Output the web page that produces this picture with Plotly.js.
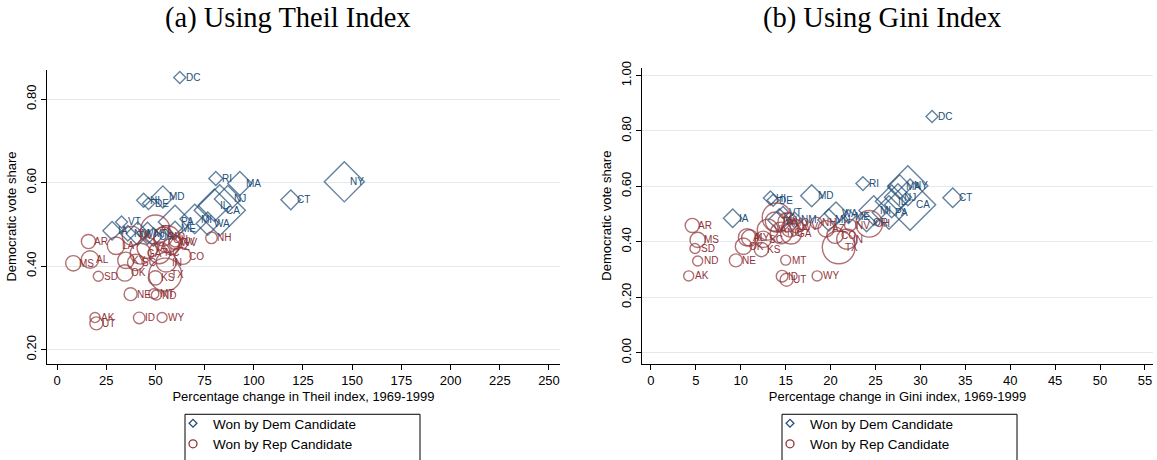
<!DOCTYPE html>
<html><head><meta charset="utf-8">
<script src="https://cdn.plot.ly/plotly-3.0.1.min.js"></script>
<style>html,body{margin:0;padding:0;background:#fff;}#chart{width:1157px;height:460px;}</style>
</head><body><div id="chart"></div>
<script>
// ---- Data: states won by the Democratic candidate ----
const demStates = ['DC','NY','MA','RI','CT','MD','NJ','IL','CA','HI','DE','MI','PA','WA','ME','VT','IA','NM','MN','WI','OR'];
const demShare  = [0.852,0.602,0.598,0.610,0.559,0.566,0.561,0.546,0.534,0.558,0.550,0.513,0.506,0.502,0.491,0.506,0.485,0.479,0.479,0.478,0.470];
const demTheil  = [62.4,146,92.9,80.7,118.8,53.8,86.8,80,82.7,44,46.5,70,60,76.6,60,32.8,28,36,46,41,49];
const demGini   = [31.3,28.6,27.7,23.6,33.6,17.9,27.5,26.8,28.85,13.3,13.6,24.8,26.5,20.6,22.0,14.7,9.1,16.0,19.8,14.3,24.0];
const demWeight = [3,33,12,4,8,10,15,22,54,4,3,18,23,11,4,3,7,5,10,11,7];
// ---- Data: states won by the Republican candidate ----
const repStates = ['AR','MS','AL','SD','OK','NE','MT','ND','AK','UT','ID','WY','KS','TX','IN','CO','NH','FL','OH','GA','NC','VA','MO','TN','KY','LA','SC','AZ','NV','WV'];
const repShare  = [0.459,0.407,0.416,0.376,0.384,0.333,0.334,0.331,0.277,0.263,0.276,0.277,0.372,0.380,0.410,0.424,0.468,0.488,0.465,0.430,0.432,0.444,0.471,0.473,0.414,0.449,0.409,0.447,0.460,0.456];
const repTheil  = [16,8.3,16.8,21,34.5,37.4,49.2,50.5,19.3,20,41.8,53.4,50,55,55.5,64,78.5,50,56,42.5,52,46,54,38,35,30,40,58,60,60];
const repGini   = [4.6,5.2,10.7,4.9,10.3,9.45,15.0,5.2,4.2,15.1,14.6,18.5,12.3,20.9,21.8,20.5,18.4,14.0,24.3,15.6,14.5,13.0,15.2,13.8,11.0,15.5,12.5,19.5,22.2,16.2];
const repWeight = [6,7,9,3,8,5,3,3,3,5,4,3,6,32,12,8,4,25,21,13,14,13,11,11,8,9,8,8,4,5];

const seriesNames = ['Won by Dem Candidate','Won by Rep Candidate'];
const panelTitles = ['(a) Using Theil Index','(b) Using Gini Index'];
const xTitles = ['Percentage change in Theil index, 1969-1999','Percentage change in Gini index, 1969-1999'];
const yTitle = 'Democratic vote share';
const xTicksA = [0,25,50,75,100,125,150,175,200,225,250];
const xTicksB = [0,5,10,15,20,25,30,35,40,45,50,55];
const yTicksA = [0.2,0.4,0.6,0.8];
const yTicksB = [0,0.2,0.4,0.6,0.8,1.0];

// ---- Styles ----
const BLUE = '#224e78', RED = '#90353b';
const SANS = 'Liberation Sans, Arial, sans-serif';
const W = 1157, H = 460;
const px = v => v / W, py = v => (H - v) / H;
const dSize = w => w.map(v => 5.36 * Math.sqrt(v));
const cSize = w => w.map(v => 5.8 * Math.sqrt(v));

function pts(xs, ys, w, sym, color, sizeFn, xa, ya) {
  return {type:'scatter', mode:'markers', x:xs, y:ys, xaxis:xa, yaxis:ya, showlegend:false, hoverinfo:'skip',
    marker:{symbol:sym, size:sizeFn(w), color:color, line:{color:color, width:1.4}}};
}
function legendItem(name, sym, size, color, leg) {
  return {type:'scatter', mode:'markers', x:[null], y:[null], name:name, legend:leg, xaxis:'x', yaxis:'y',
    marker:{symbol:sym, size:size, color:color, line:{color:color, width:1.3}}};
}

const traces = [
  pts(demTheil, demShare, demWeight, 'diamond-open', BLUE, dSize, 'x', 'y'),
  pts(repTheil, repShare, repWeight, 'circle-open', RED, cSize, 'x', 'y'),
  pts(demGini, demShare, demWeight, 'diamond-open', BLUE, dSize, 'x2', 'y2'),
  pts(repGini, repShare, repWeight, 'circle-open', RED, cSize, 'x2', 'y2'),
  legendItem(seriesNames[0], 'diamond-open', 6, BLUE, 'legend'),
  legendItem(seriesNames[1], 'circle-open', 8, RED, 'legend'),
  legendItem(seriesNames[0], 'diamond-open', 6, BLUE, 'legend2'),
  legendItem(seriesNames[1], 'circle-open', 8, RED, 'legend2')
];

const annotations = [];
function labels(states, xs, ys, color, xr, yr) {
  states.forEach((s, i) => annotations.push({x:xs[i], y:ys[i], xref:xr, yref:yr, text:s, showarrow:false,
    xanchor:'left', yanchor:'middle', xshift:5, borderpad:0, font:{family:SANS, size:10, color:color}}));
}
labels(demStates, demTheil, demShare, BLUE, 'x', 'y');
labels(repStates, repTheil, repShare, RED, 'x', 'y');
labels(demStates, demGini, demShare, BLUE, 'x2', 'y2');
labels(repStates, repGini, repShare, RED, 'x2', 'y2');
annotations.push({text:panelTitles[0], xref:'paper', yref:'paper', x:px(288), y:py(18), xanchor:'center', yanchor:'middle', showarrow:false, font:{family:'Liberation Serif, serif', size:28.5, color:'#000'}});
annotations.push({text:panelTitles[1], xref:'paper', yref:'paper', x:px(882), y:py(18), xanchor:'center', yanchor:'middle', showarrow:false, font:{family:'Liberation Serif, serif', size:28.5, color:'#000'}});

function xAxis(dom, range, ticks, title) {
  return {domain:dom, range:range, tickvals:ticks, ticktext:ticks.map(String), showgrid:false, zeroline:false,
    showline:true, linecolor:'#000', linewidth:1, ticks:'outside', ticklen:5, tickcolor:'#000',
    tickfont:{family:SANS, size:13, color:'#000'}, title:{text:title, font:{family:SANS, size:13, color:'#000'}, standoff:4}};
}
function yAxis(dom, range, ticks, anchor) {
  return {domain:dom, range:range, anchor:anchor, tickvals:ticks, ticktext:ticks.map(v => v.toFixed(2)), tickangle:-90,
    showgrid:true, gridcolor:'#e2eaed', gridwidth:1, zeroline:false, showline:true, linecolor:'#000', linewidth:1,
    ticks:'outside', ticklen:5, tickcolor:'#000', tickfont:{family:SANS, size:13, color:'#000'},
    title:{text:yTitle, font:{family:SANS, size:13, color:'#000'}, standoff:4}};
}

const legendBase = {yanchor:'top', xanchor:'left', bgcolor:'rgba(0,0,0,0)', borderwidth:0,
  font:{family:SANS, size:13.5, color:'#000'}, tracegroupgap:0, itemclick:false, itemdoubleclick:false};

const layout = {
  width:W, height:H, margin:{l:0, r:0, t:0, b:0}, paper_bgcolor:'#fff', plot_bgcolor:'#fff',
  xaxis: xAxis([px(47), px(560)], [-5.08, 255.6], xTicksA, xTitles[0]),
  yaxis: yAxis([py(366), py(70)], [0.1667, 0.871], yTicksA, 'x'),
  xaxis2: Object.assign(xAxis([px(642), px(1153)], [-1.0, 55.9], xTicksB, xTitles[1]), {anchor:'y2'}),
  yaxis2: yAxis([py(366), py(68)], [-0.0394, 1.0287], yTicksB, 'x2'),
  legend: Object.assign({x:px(173), y:py(411)}, legendBase),
  legend2: Object.assign({x:px(770), y:py(411)}, legendBase),
  annotations: annotations,
  shapes: [
    {type:'rect', xref:'paper', yref:'paper', x0:px(185), x1:px(420), y0:py(475), y1:py(417), line:{color:'#000', width:1}},
    {type:'rect', xref:'paper', yref:'paper', x0:px(782), x1:px(1017), y0:py(475), y1:py(417), line:{color:'#000', width:1}}
  ],
  showlegend:true
};
layout.xaxis.anchor = 'y';
Plotly.newPlot('chart', traces, layout, {staticPlot:true, displayModeBar:false});
</script></body></html>
